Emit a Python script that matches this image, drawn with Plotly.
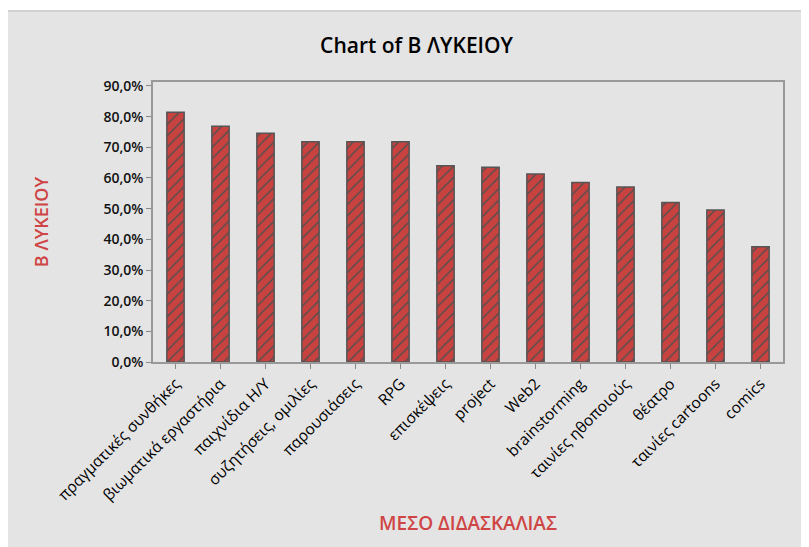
import plotly.graph_objects as go

methods = [
    "πραγματικές συνθήκες", "βιωματικά εργαστήρια", "παιχνίδια Η/Υ",
    "συζητήσεις, ομιλίες", "παρουσιάσεις", "RPG", "επισκέψεις", "project",
    "Web2", "brainstorming", "ταινίες ηθοποιούς", "θέατρο",
    "ταινίες cartoons", "comics",
]
percent = [81.4, 76.9, 74.6, 71.8, 71.8, 71.8, 64.0, 63.5,
           61.3, 58.5, 57.1, 52.0, 49.6, 37.6]
y_ticks = [0, 10, 20, 30, 40, 50, 60, 70, 80, 90]
y_labels = [f"{v:.1f}%".replace(".", ",") for v in y_ticks]

fig = go.Figure(go.Bar(
    x=methods, y=percent, width=0.385,
    marker=dict(color="#c8423f",
                line=dict(color="#555555", width=1.5),
                pattern=dict(shape="/", fgcolor="#505050", fgopacity=1,
                             size=8, solidity=0.18)),
))

# page body adds ~8px offset, so margins are shifted accordingly
fig.update_layout(
    width=809, height=547,
    paper_bgcolor="white", plot_bgcolor="white",
    font=dict(family="Open Sans", color="black"),
    margin=dict(l=145, r=34, t=74, b=193, autoexpand=False),
    title=dict(text="Chart of B ΛΥΚΕΙΟΥ", x=0.505, xanchor="center",
               y=1 - 38 / 547, yanchor="middle",
               font=dict(size=21, family="Open Sans", color="black", weight=600)),
    showlegend=False,
    shapes=[dict(type="rect", xref="paper", yref="paper", layer="below",
                 x0=-160 / 630, x1=1 + 40 / 630, y0=-200 / 280, y1=1 + 71 / 280,
                 fillcolor="#e4e4e4", line=dict(color="#d2d2d2", width=2))],
)
fig.update_xaxes(
    title=dict(text="ΜΕΣΟ ΔΙΔΑΣΚΑΛΙΑΣ", standoff=13,
               font=dict(size=19, color="#cf4545", weight=600)),
    tickangle=-45, tickfont=dict(size=15.5),
    ticks="outside", ticklen=5, tickcolor="#888888",
    showline=True, linecolor="#999999", linewidth=1.5, mirror=True,
    automargin=False,
)
fig.update_yaxes(
    title=dict(text="B ΛΥΚΕΙΟΥ", standoff=50,
               font=dict(size=18, color="#cf4545", weight=600)),
    range=[0, 91.3], tickvals=y_ticks, ticktext=y_labels,
    tickfont=dict(size=14, color="#111111", weight=600),
    ticks="outside", ticklen=5, tickcolor="#888888",
    showgrid=False, zeroline=False,
    showline=True, linecolor="#999999", linewidth=1.5, mirror=True,
    automargin=False,
)

fig.write_html("out.html")
